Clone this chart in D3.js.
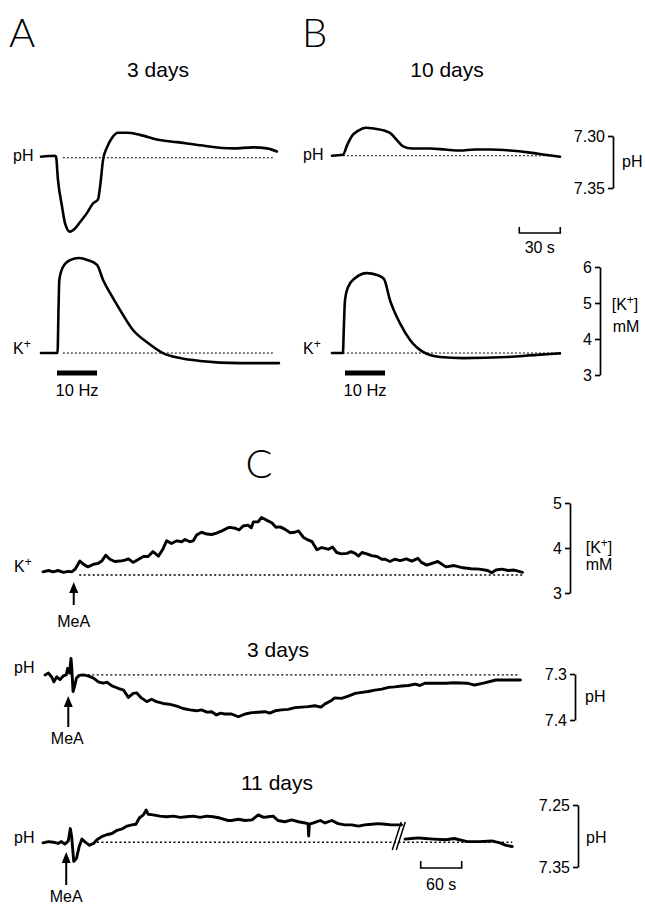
<!DOCTYPE html>
<html>
<head>
<meta charset="utf-8">
<script src="https://cdn.jsdelivr.net/npm/d3@7"></script>
<style>
  body { margin: 0; background: #fff; }
  .letter { font-family: Lato, "Open Sans", sans-serif; font-weight: 300; font-size: 40px; }
</style>
</head>
<body>
<svg id="fig" width="645" height="905" font-family="'Liberation Sans', Arial, Helvetica, sans-serif"></svg>
<script>
'use strict';

////////////////////////////////////////////////////////////////////////////////////
// traces read off the figure : [time (s), value]
// A / B : pH and [K+] (mM) during 10 Hz stimulation
var phA = [[0,7.318],[10.2,7.317],[11,7.318],[12.4,7.340],[15.4,7.366],[17.6,7.382],[21.2,7.390],
  [24.9,7.387],[28.5,7.381],[33.7,7.372],[38,7.363],[41.7,7.359],[43.2,7.347],[45.4,7.321],
  [48.3,7.309],[51.9,7.300],[56.3,7.295],[62.9,7.295],[72.4,7.297],[87,7.302],[99.5,7.304],
  [116.3,7.307],[140.5,7.310],[155.1,7.309],[165.3,7.310],[172.6,7.313]];

var kA = [[0,3.61],[12.1,3.61],[12.8,4.81],[13.4,5.64],[16.1,6.0],[21.2,6.19],[27.8,6.25],
  [34.4,6.19],[41,6.06],[45.4,5.64],[50.5,5.28],[57.8,4.81],[67.3,4.25],[78.3,3.89],[89.2,3.61],
  [101.7,3.47],[116.3,3.39],[145.6,3.33],[174.1,3.33]];

var phB = [[0,7.319],[8,7.318],[11,7.309],[14.6,7.300],[19,7.295],[24.9,7.292],[31.5,7.293],
  [38.8,7.295],[42.4,7.297],[47.5,7.304],[52,7.310],[58.5,7.312],[71.7,7.312],[82.7,7.313],
  [93.6,7.314],[104.6,7.313],[115.6,7.313],[130.2,7.314],[144.8,7.316],[155.8,7.318],[166.8,7.320]];

var kB = [[0,3.61],[8,3.61],[8.6,4.25],[9.5,5.08],[11.7,5.44],[16.8,5.69],[25.6,5.83],[32.9,5.78],
  [38,5.67],[42.4,5.08],[49.7,4.44],[57.1,3.97],[66.6,3.64],[79,3.50],[95.8,3.47],[128,3.50],
  [150,3.56],[166.8,3.60]];

// C : responses to MeA
var kC = [[0,3.47],[8,3.50],[15,3.47],[22,3.50],[30,3.46],[37,3.48],[42,3.47],[47,3.53],[54,3.71],
  [61,3.62],[66,3.58],[74,3.64],[81,3.66],[86,3.71],[92,3.84],[98,3.75],[105,3.70],[113,3.71],
  [120,3.73],[125,3.76],[132,3.68],[140,3.75],[147,3.81],[154,3.81],[161,3.92],[169,3.82],
  [175,3.96],[181,4.16],[188,4.10],[196,4.16],[203,4.14],[208,4.19],[215,4.14],[220,4.16],
  [225,4.29],[232,4.35],[240,4.31],[247,4.30],[254,4.33],[262,4.38],[271,4.45],[274,4.46],
  [281,4.44],[287,4.40],[293,4.49],[300,4.51],[305,4.45],[308,4.58],[315,4.58],[320,4.68],
  [327,4.62],[335,4.56],[341,4.46],[347,4.47],[354,4.42],[362,4.34],[369,4.35],[374,4.38],
  [381,4.24],[388,4.18],[394,4.14],[401,3.96],[408,4.01],[413,3.99],[418,3.97],[424,4.02],
  [430,3.90],[437,3.87],[445,3.88],[451,3.92],[457,3.88],[462,3.82],[467,3.90],[474,3.87],
  [481,3.83],[489,3.81],[496,3.75],[501,3.75],[508,3.70],[515,3.75],[523,3.72],[532,3.76],
  [540,3.71],[549,3.77],[554,3.68],[562,3.62],[578,3.70],[590,3.58],[602,3.61],[615,3.56],
  [627,3.54],[639,3.53],[651,3.50],[657,3.45],[663,3.51],[672,3.53],[681,3.50],[690,3.51],[702,3.46]];

var ph3 = [[3,7.302],[8,7.298],[13,7.307],[16,7.317],[20,7.306],[25,7.312],[30,7.304],[34,7.302],
  [36,7.288],[39,7.298],[41,7.266],[42,7.284],[44,7.338],[46,7.328],[49,7.309],[53,7.303],
  [59,7.302],[66,7.304],[74,7.309],[81,7.317],[88,7.320],[94,7.318],[101,7.326],[110,7.331],
  [118,7.335],[125,7.351],[132,7.342],[137,7.341],[144,7.352],[152,7.360],[159,7.355],[166,7.360],
  [176,7.364],[186,7.366],[196,7.370],[205,7.375],[215,7.378],[225,7.380],[232,7.378],[240,7.383],
  [247,7.382],[254,7.389],[260,7.385],[266,7.387],[276,7.387],[286,7.393],[296,7.387],[306,7.384],
  [315,7.383],[325,7.382],[332,7.385],[340,7.380],[349,7.378],[359,7.377],[369,7.373],[379,7.372],
  [388,7.371],[398,7.369],[407,7.372],[413,7.365],[423,7.357],[427,7.352],[437,7.353],[447,7.348],
  [457,7.342],[467,7.340],[476,7.338],[486,7.335],[496,7.333],[506,7.329],[515,7.328],[525,7.326],
  [535,7.325],[545,7.322],[552,7.325],[559,7.320],[572,7.320],[590,7.320],[602,7.319],[621,7.320],
  [632,7.324],[645,7.320],[663,7.313],[681,7.313],[699,7.313]];

var ph11a = [[0,7.311],[8,7.309],[15,7.310],[22,7.312],[27,7.309],[32,7.313],[37,7.308],[40,7.288],
  [42,7.301],[45,7.341],[49,7.336],[53,7.317],[57,7.305],[61,7.309],[68,7.315],[74,7.312],
  [79,7.306],[86,7.301],[93,7.298],[101,7.296],[108,7.291],[115,7.289],[123,7.284],[130,7.282],
  [136,7.281],[141,7.271],[147,7.266],[151,7.258],[154,7.265],[161,7.266],[171,7.268],[181,7.269],
  [191,7.268],[201,7.270],[210,7.269],[220,7.268],[230,7.270],[240,7.268],[249,7.269],[259,7.271],
  [271,7.275],[276,7.275],[286,7.273],[296,7.275],[306,7.274],[315,7.266],[323,7.270],[330,7.269],
  [337,7.268],[344,7.275],[354,7.277],[364,7.274],[374,7.277],[384,7.279],[388,7.280],[389,7.300],
  [390,7.281],[396,7.279],[406,7.275],[413,7.279],[423,7.275],[432,7.280],[442,7.282],[452,7.282],
  [462,7.284],[471,7.282],[481,7.281],[491,7.280],[501,7.281],[510,7.282],[525,7.282]];

var ph11b = [[530,7.305],[540,7.304],[549,7.303],[559,7.304],[572,7.305],[590,7.306],[602,7.304],
  [621,7.309],[639,7.309],[657,7.308],[669,7.311],[678,7.315],[687,7.317]];

// stimulation / application times and scale-bar ticks
var stimA = [11.7, 41];
var stimB = [9.5, 38.8];
var meaTimes = [45, 37, 34];
var phTicksB = [7.30, 7.35];
var kTicksB = [3, 4, 5, 6];
var kTicksC = [3, 4, 5];
var phTicks3 = [7.3, 7.4];
var phTicks11 = [7.25, 7.35];

////////////////////////////////////////////////////////////////////////////////////
var svg = d3.select('#fig');

var xA = d3.scaleLinear().domain([0, 175]).range([41, 280.2]);
var xB = d3.scaleLinear().domain([0, 175]).range([332, 571.2]);
var yPhA = d3.scaleLinear().domain([7.30, 7.35]).range([138, 190]);
var yPhB = d3.scaleLinear().domain([7.30, 7.35]).range([136, 188]);
var yK = d3.scaleLinear().domain([3, 6]).range([375, 267]);

var xC = d3.scaleLinear().domain([0, 700]).range([43, 521.1]);
var yKC = d3.scaleLinear().domain([3, 5]).range([593, 503]);
var yPh3 = d3.scaleLinear().domain([7.3, 7.4]).range([674, 720]);
var yPh11 = d3.scaleLinear().domain([7.25, 7.35]).range([805, 867]);

function trace(data, x, y, smooth, width) {
  var line = d3.line()
    .x(function (d) { return x(d[0]); })
    .y(function (d) { return y(d[1]); })
    .curve(smooth ? d3.curveMonotoneX : d3.curveLinear);
  svg.append('path').attr('d', line(data))
    .attr('fill', 'none').attr('stroke', '#000')
    .attr('stroke-width', width).attr('stroke-linejoin', 'round').attr('stroke-linecap', 'round');
}

function dotted(t0, t1, v, x, y, dash, width) {
  svg.append('line')
    .attr('x1', x(t0)).attr('x2', x(t1)).attr('y1', y(v)).attr('y2', y(v))
    .attr('stroke', '#000').attr('stroke-width', width).attr('stroke-dasharray', dash);
}

function label(txt, x, y, size, anchor) {
  return svg.append('text').attr('x', x).attr('y', y)
    .attr('font-size', size).attr('text-anchor', anchor || 'start').text(txt);
}

function kLabel(x, y, size, anchor, bracket) {
  var t = svg.append('text').attr('x', x).attr('y', y)
    .attr('font-size', size).attr('text-anchor', anchor || 'start');
  if (bracket) t.append('tspan').text('[');
  t.append('tspan').text('K');
  t.append('tspan').attr('dy', -6).attr('font-size', size * 0.75).text('+');
  if (bracket) t.append('tspan').attr('dy', 6).text(']');
}

function bracket(scale, ticks, fmt, xPos) {
  var ax = d3.axisLeft(scale).tickValues(ticks).tickFormat(d3.format(fmt))
    .tickSize(5).tickSizeOuter(0).tickPadding(3);
  var g = svg.append('g').attr('transform', 'translate(' + xPos + ',0)').call(ax);
  g.attr('font-family', null).attr('font-size', null);
  g.selectAll('path,line').attr('stroke', '#000').attr('stroke-width', 1.7);
  g.selectAll('text').attr('font-size', 16).attr('dy', '0.36em');
}

function arrow(x, yTip, yEnd) {
  svg.append('line').attr('x1', x).attr('x2', x).attr('y1', yTip + 8).attr('y2', yEnd)
    .attr('stroke', '#000').attr('stroke-width', 2);
  svg.append('path')
    .attr('d', 'M' + x + ',' + yTip + 'L' + (x - 4.5) + ',' + (yTip + 11) + 'L' + (x + 4.5) + ',' + (yTip + 11) + 'Z')
    .attr('fill', '#000');
}

////////////////////////////////////////////////////////////////////////////////////
// panel letters and titles
svg.append('text').attr('class', 'letter').attr('x', 9).attr('y', 47).text('A');
svg.append('text').attr('class', 'letter').attr('x', 302).attr('y', 47).text('B');
svg.append('text').attr('class', 'letter').attr('x', 259).attr('y', 478).attr('text-anchor', 'middle').text('C');

label('3 days', 158, 77, 21, 'middle');
label('10 days', 447, 77, 21, 'middle');

// A and B traces
dotted(16, 170, 7.319, xA, yPhA, '2,2', 1);
dotted(16, 170, 3.61, xA, yK, '2,2', 1);
dotted(8, 164.6, 7.319, xB, yPhB, '2,2', 1);
dotted(8, 164.6, 3.61, xB, yK, '2,2', 1);

trace(phA, xA, yPhA, true, 2.6);
trace(kA, xA, yK, true, 2.6);
trace(phB, xB, yPhB, true, 2.6);
trace(kB, xB, yK, true, 2.6);

label('pH', 13, 161, 16);
label('pH', 303, 160, 16);
kLabel(13, 354, 16);
kLabel(303, 354, 16);

// stimulation bars
svg.append('line').attr('x1', xA(stimA[0])).attr('x2', xA(stimA[1])).attr('y1', 373).attr('y2', 373)
  .attr('stroke', '#000').attr('stroke-width', 5);
svg.append('line').attr('x1', xB(stimB[0])).attr('x2', xB(stimB[1])).attr('y1', 373).attr('y2', 373)
  .attr('stroke', '#000').attr('stroke-width', 5);
label('10 Hz', xA((stimA[0] + stimA[1]) / 2), 396, 16.5, 'middle');
label('10 Hz', xB((stimB[0] + stimB[1]) / 2), 396, 16.5, 'middle');

// calibration brackets A/B
bracket(yPhB, phTicksB, '.2f', 613);
label('pH', 622, 167, 16);
bracket(yK, kTicksB, 'd', 600);
kLabel(625, 310, 16, 'middle', true);
label('mM', 626, 332, 16, 'middle');

// 30 s bar
svg.append('path')
  .attr('d', 'M' + xB(137) + ',227V233H' + xB(167) + 'V227')
  .attr('fill', 'none').attr('stroke', '#000').attr('stroke-width', 1.6);
label('30 s', xB(152), 253, 16, 'middle');

////////////////////////////////////////////////////////////////////////////////////
// C traces
dotted(53, 703, 3.40, xC, yKC, '2,2.5', 1.4);
dotted(59, 697, 7.302, xC, yPh3, '2,2.5', 1.4);
dotted(79, 687, 7.310, xC, yPh11, '2,2.5', 1.4);

trace(kC, xC, yKC, false, 2.9);
trace(ph3, xC, yPh3, false, 2.9);
trace(ph11a, xC, yPh11, false, 2.9);
trace(ph11b, xC, yPh11, false, 2.9);

kLabel(14, 572, 16);
label('pH', 14, 673, 16);
label('pH', 14, 843, 16);
label('3 days', 278, 657, 21, 'middle');
label('11 days', 277, 790, 21, 'middle');

// MeA application
arrow(xC(meaTimes[0]), 582, 605);
label('MeA', xC(meaTimes[0]), 627, 16, 'middle');
arrow(xC(meaTimes[1]), 696, 727);
label('MeA', xC(meaTimes[1]) - 1, 744, 16, 'middle');
arrow(xC(meaTimes[2]), 852, 885);
label('MeA', xC(meaTimes[2]), 902, 16, 'middle');

// break marks on the 11 day trace
var bx = xC(526);
svg.append('line').attr('x1', bx - 10).attr('y1', 850).attr('x2', bx - 1).attr('y2', 822)
  .attr('stroke', '#000').attr('stroke-width', 1.5);
svg.append('line').attr('x1', bx - 6).attr('y1', 850).attr('x2', bx + 3).attr('y2', 822)
  .attr('stroke', '#000').attr('stroke-width', 1.5);

// C calibration brackets
bracket(yKC, kTicksC, 'd', 570);
kLabel(599, 553, 16, 'middle', true);
label('mM', 599, 570, 16, 'middle');
bracket(yPh3, phTicks3, '.1f', 575);
label('pH', 585, 702, 16);
bracket(yPh11, phTicks11, '.2f', 578);
label('pH', 586, 843, 16);

// 60 s bar
svg.append('path')
  .attr('d', 'M' + xC(553) + ',861V868H' + xC(613) + 'V861')
  .attr('fill', 'none').attr('stroke', '#000').attr('stroke-width', 1.6);
label('60 s', xC(583), 890, 16, 'middle');
</script>
</body>
</html>
